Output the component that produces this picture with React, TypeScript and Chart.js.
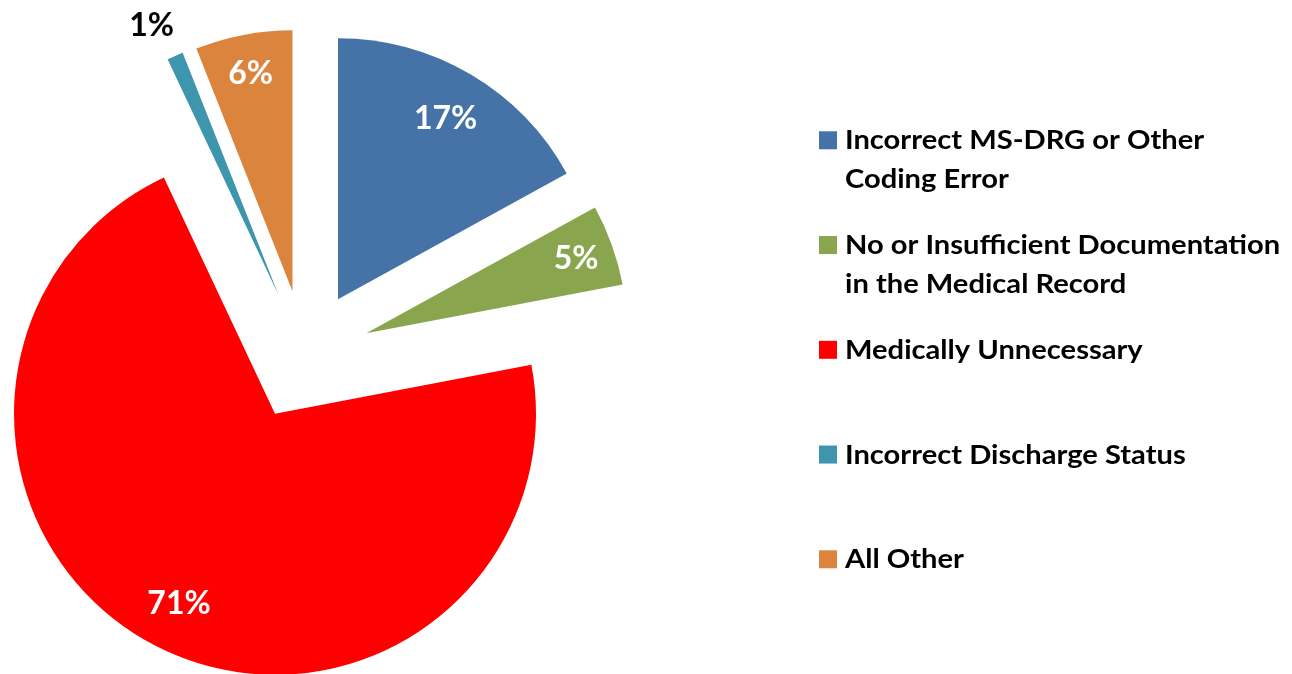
import React, { useEffect, useRef } from "react";
import { Chart, registerables } from "chart.js";

Chart.register(...registerables);

// ---- data ----
const categories: string[][] = [
  ["Incorrect MS-DRG or Other", "Coding Error"],
  ["No or Insufficient Documentation", "in the Medical Record"],
  ["Medically Unnecessary"],
  ["Incorrect Discharge Status"],
  ["All Other"],
];
const values = [17, 5, 71, 1, 6];
const valueLabels = ["17%", "5%", "71%", "1%", "6%"];
const colors = ["#4572A7", "#89A54E", "#FF0000", "#3D96AE", "#DB843D"];

// ---- layout / style ----
const W = 1292;
const H = 674;
const CX = 304.7;
const CY = 355.5;
const RADIUS = 261;
const EXPLODE = 65.4; // pixel shift of every slice along its bisector
const FONT = "Lato, 'Open Sans', sans-serif";
const LABEL_SIZE = 32;
const LEGEND_SIZE = 26;
const LEGEND_STRETCH = 1.12;
const LEG_X_BOX = 819;
const LEG_X_TEXT = 845;
const LEG_Y0 = 149.3;
const LEG_STEP = 104.75;
const LEG_LINE = 38.5;
const BOX = 18;

// explode every slice by the same distance along its bisector
const explode = {
  id: "explode",
  beforeDatasetsDraw(chart: any) {
    const area = chart.chartArea;
    const x0 = (area.left + area.right) / 2;
    const y0 = (area.top + area.bottom) / 2;
    const meta = chart.getDatasetMeta(0);
    meta.data.forEach((arc: any) => {
      const mid = (arc.startAngle + arc.endAngle) / 2;
      arc.x = x0 + Math.cos(mid) * EXPLODE;
      arc.y = y0 + Math.sin(mid) * EXPLODE;
    });
  },
};

const sliceLabels = {
  id: "sliceLabels",
  afterDatasetsDraw(chart: any) {
    const meta = chart.getDatasetMeta(0);
    const ctx = chart.ctx;
    ctx.save();
    ctx.font = `bold ${LABEL_SIZE}px ${FONT}`;
    ctx.textAlign = "center";
    ctx.textBaseline = "alphabetic";
    meta.data.forEach((arc: any, i: number) => {
      const mid = (arc.startAngle + arc.endAngle) / 2;
      const outside = values[i] < 3;
      const ratio = outside ? 1.15 : values[i] < 10 ? 0.855 : 0.81;
      const r = arc.outerRadius * ratio;
      const x = arc.x + Math.cos(mid) * r - (outside ? 8 : 0);
      const y = arc.y + Math.sin(mid) * r + (outside ? 4 : 0);
      ctx.fillStyle = outside ? "#000000" : "#FFFFFF";
      ctx.fillText(valueLabels[i], x, y + LABEL_SIZE * 0.36);
    });
    ctx.restore();
  },
};

const sideLegend = {
  id: "sideLegend",
  afterDraw(chart: any) {
    const ctx = chart.ctx;
    ctx.save();
    ctx.font = `bold ${LEGEND_SIZE}px ${FONT}`;
    ctx.textAlign = "left";
    ctx.textBaseline = "alphabetic";
    categories.forEach((lines, i) => {
      const base = LEG_Y0 + i * LEG_STEP;
      ctx.fillStyle = colors[i];
      ctx.fillRect(LEG_X_BOX, base - BOX, BOX, BOX);
      ctx.fillStyle = "#000000";
      lines.forEach((t, j) => {
        ctx.save();
        ctx.translate(LEG_X_TEXT, base + j * LEG_LINE);
        ctx.scale(LEGEND_STRETCH, 1);
        ctx.fillText(t, 0, 0);
        ctx.restore();
      });
    });
    ctx.restore();
  },
};

export default function App() {
  const ref = useRef<HTMLCanvasElement | null>(null);

  useEffect(() => {
    if (!ref.current) return;
    const chart = new Chart(ref.current, {
      type: "pie",
      data: {
        labels: categories.map((l) => l.join(" ")),
        datasets: [
          {
            data: values,
            backgroundColor: colors,
            borderWidth: 0,
          },
        ],
      },
      options: {
        responsive: false,
        animation: false,
        radius: RADIUS,
        layout: {
          padding: { left: 0, top: CY * 2 - H, right: W - CX * 2, bottom: 0 },
        },
        plugins: {
          legend: { display: false },
          tooltip: { enabled: false },
        },
      } as any,
      plugins: [explode, sliceLabels, sideLegend],
    });
    return () => chart.destroy();
  }, []);

  return (
    <div style={{ position: "absolute", left: 0, top: 0, width: W, height: H, background: "#fff" }}>
      <canvas ref={ref} width={W} height={H} style={{ display: "block", width: W, height: H }} />
    </div>
  );
}
